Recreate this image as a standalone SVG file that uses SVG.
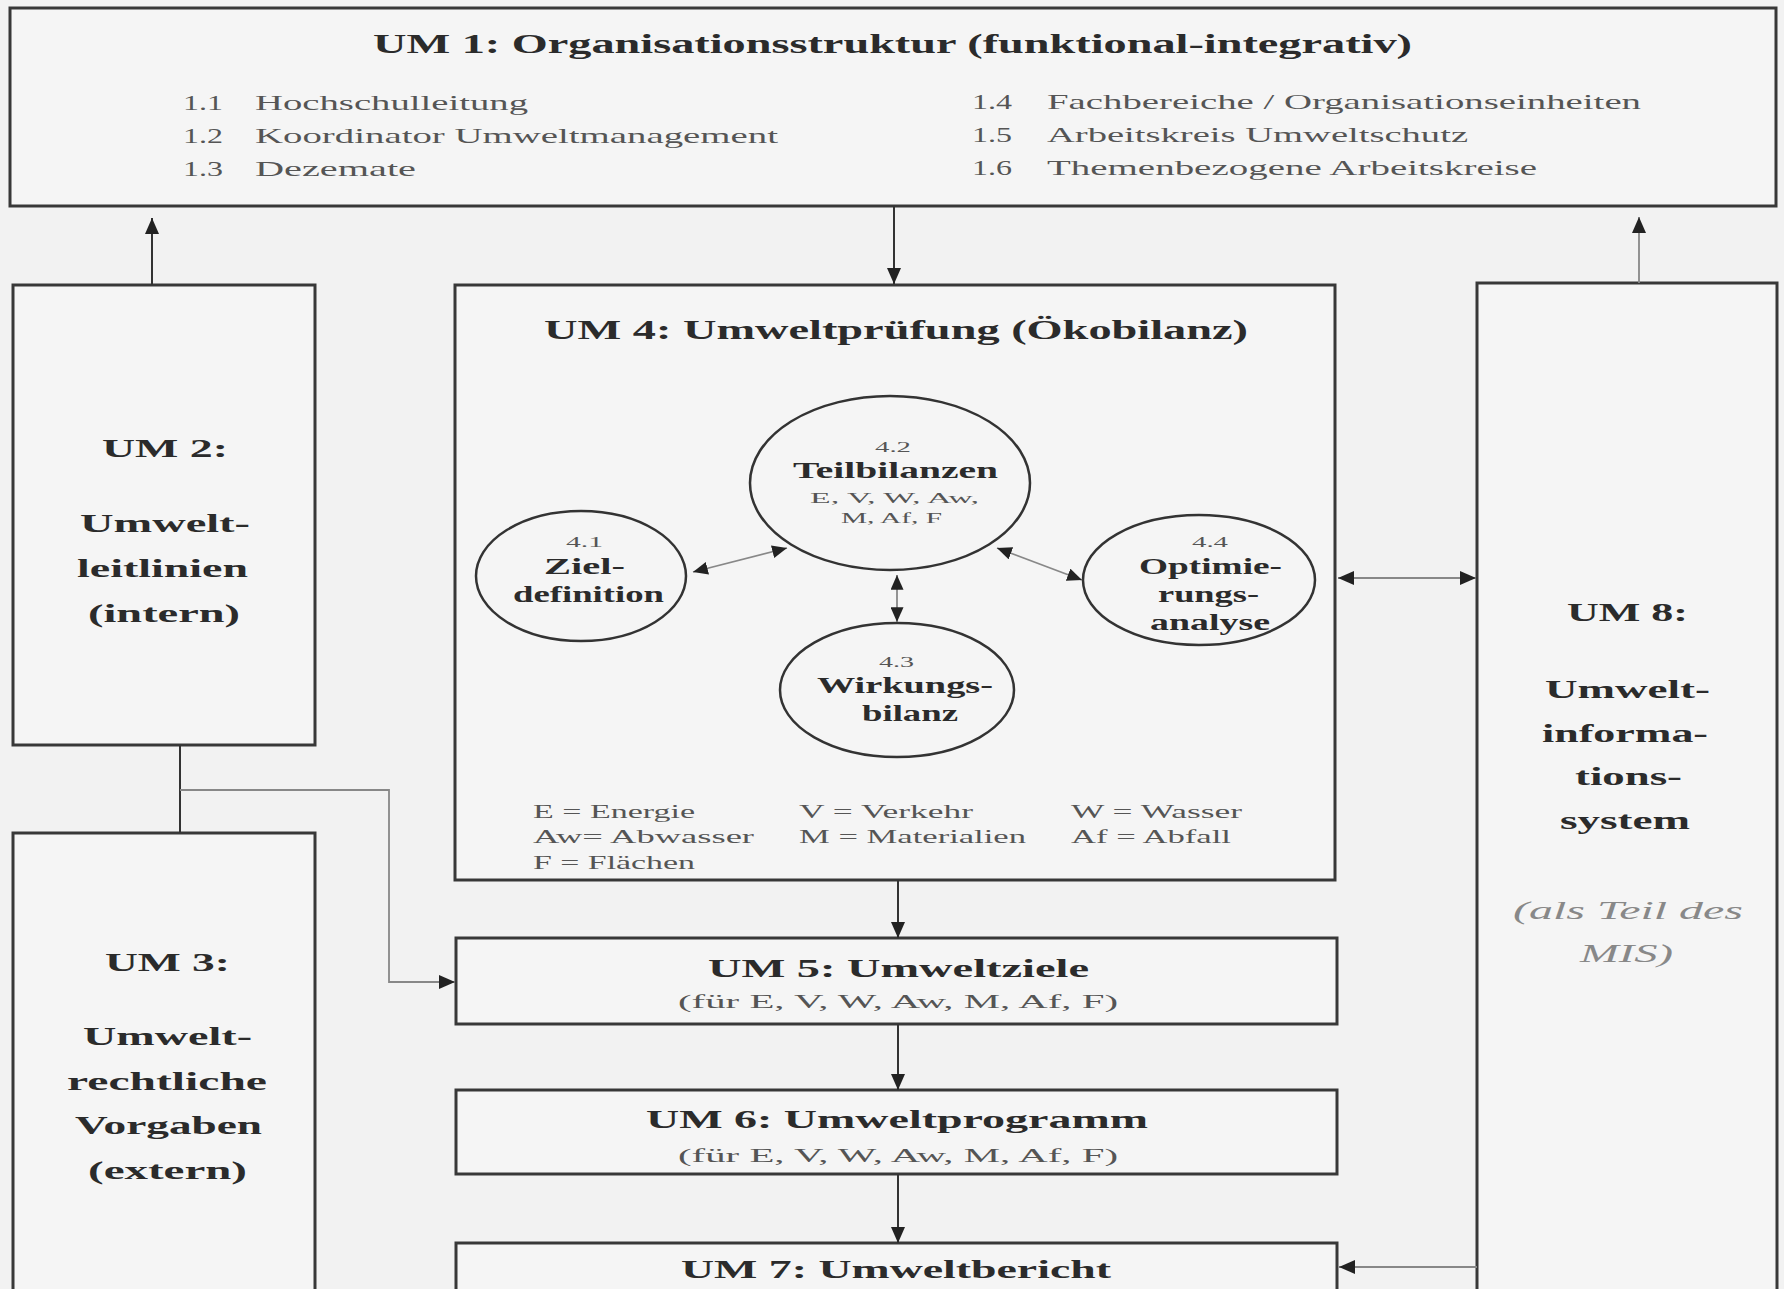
<svg xmlns="http://www.w3.org/2000/svg" width="1784" height="1289" viewBox="0 0 1784 1289">
<style>
.box{fill:#f5f5f5;stroke:#383838;stroke-width:3}
.ell{fill:#f5f5f5;stroke:#333;stroke-width:2.5}
.t{font-family:"Liberation Serif","Times New Roman",serif;fill:#2b2b2b}
.b{font-weight:bold}
.item{font-size:22px;fill:#555}
.h1{font-size:27px}
.mid{font-size:26px}
.cl{font-size:23px}
.num{font-size:15px;fill:#555}
.sm{font-size:15px;fill:#555}
.leg{font-size:19px;fill:#555}
.sub{font-size:19px;fill:#555}
.it{font-size:25px;font-style:italic;fill:#888}
.c{fill:none;stroke:#333;stroke-width:2}
.cg{fill:none;stroke:#888;stroke-width:1.8}
</style>
<defs>
<marker id="ah" viewBox="0 0 16 14" refX="16" refY="7" markerWidth="16" markerHeight="14" markerUnits="userSpaceOnUse" orient="auto-start-reverse">
<path d="M0,0 L16,7 L0,14 z" fill="#222"/>
</marker>
<marker id="ahs" viewBox="0 0 16 14" refX="16" refY="7" markerWidth="15" markerHeight="13" markerUnits="userSpaceOnUse" orient="auto-start-reverse">
<path d="M0,0 L16,7 L0,14 z" fill="#222"/>
</marker>
</defs>
<rect x="0" y="0" width="1784" height="1289" fill="#f2f2f2"/>

<g id="um1">
<rect class="box" x="10" y="8" width="1766" height="198"/>
<text class="t b h1" x="373" y="53" textLength="1039" lengthAdjust="spacingAndGlyphs">UM 1: Organisationsstruktur (funktional-integrativ)</text>
<text class="t item" x="183" y="110" textLength="40" lengthAdjust="spacingAndGlyphs">1.1</text>
<text class="t item" x="255" y="110" textLength="273" lengthAdjust="spacingAndGlyphs">Hochschulleitung</text>
<text class="t item" x="183" y="143" textLength="40" lengthAdjust="spacingAndGlyphs">1.2</text>
<text class="t item" x="255" y="143" textLength="523" lengthAdjust="spacingAndGlyphs">Koordinator Umweltmanagement</text>
<text class="t item" x="183" y="176" textLength="40" lengthAdjust="spacingAndGlyphs">1.3</text>
<text class="t item" x="255" y="176" textLength="161" lengthAdjust="spacingAndGlyphs">Dezemate</text>
<text class="t item" x="972" y="109" textLength="40" lengthAdjust="spacingAndGlyphs">1.4</text>
<text class="t item" x="1047" y="109" textLength="594" lengthAdjust="spacingAndGlyphs">Fachbereiche / Organisationseinheiten</text>
<text class="t item" x="972" y="142" textLength="40" lengthAdjust="spacingAndGlyphs">1.5</text>
<text class="t item" x="1047" y="142" textLength="421" lengthAdjust="spacingAndGlyphs">Arbeitskreis Umweltschutz</text>
<text class="t item" x="972" y="175" textLength="40" lengthAdjust="spacingAndGlyphs">1.6</text>
<text class="t item" x="1047" y="175" textLength="490" lengthAdjust="spacingAndGlyphs">Themenbezogene Arbeitskreise</text>
</g>

<g id="um2">
<rect class="box" x="13" y="285" width="302" height="460"/>
<text class="t b mid" x="102" y="457" textLength="126" lengthAdjust="spacingAndGlyphs">UM 2:</text>
<text class="t b mid" x="80" y="532" textLength="170" lengthAdjust="spacingAndGlyphs">Umwelt-</text>
<text class="t b mid" x="77" y="577" textLength="171" lengthAdjust="spacingAndGlyphs">leitlinien</text>
<text class="t b mid" x="88" y="622" textLength="152" lengthAdjust="spacingAndGlyphs">(intern)</text>
</g>

<g id="um3">
<rect class="box" x="13" y="833" width="302" height="470"/>
<text class="t b mid" x="105" y="971" textLength="125" lengthAdjust="spacingAndGlyphs">UM 3:</text>
<text class="t b mid" x="83" y="1045" textLength="169" lengthAdjust="spacingAndGlyphs">Umwelt-</text>
<text class="t b mid" x="67" y="1090" textLength="200" lengthAdjust="spacingAndGlyphs">rechtliche</text>
<text class="t b mid" x="75" y="1134" textLength="187" lengthAdjust="spacingAndGlyphs">Vorgaben</text>
<text class="t b mid" x="88" y="1179" textLength="159" lengthAdjust="spacingAndGlyphs">(extern)</text>
</g>

<g id="um4">
<rect class="box" x="455" y="285" width="880" height="595"/>
<text class="t b h1" x="544" y="339" textLength="704" lengthAdjust="spacingAndGlyphs">UM 4: Umweltprüfung (Ökobilanz)</text>
<text class="t leg" x="533" y="818" textLength="162" lengthAdjust="spacingAndGlyphs">E = Energie</text>
<text class="t leg" x="799" y="818" textLength="174" lengthAdjust="spacingAndGlyphs">V = Verkehr</text>
<text class="t leg" x="1071" y="818" textLength="171" lengthAdjust="spacingAndGlyphs">W = Wasser</text>
<text class="t leg" x="533" y="843" textLength="221" lengthAdjust="spacingAndGlyphs">Aw= Abwasser</text>
<text class="t leg" x="799" y="843" textLength="227" lengthAdjust="spacingAndGlyphs">M = Materialien</text>
<text class="t leg" x="1071" y="843" textLength="160" lengthAdjust="spacingAndGlyphs">Af = Abfall</text>
<text class="t leg" x="533" y="869" textLength="162" lengthAdjust="spacingAndGlyphs">F = Flächen</text>
</g>

<g id="n41">
<ellipse class="ell" cx="581" cy="576" rx="105" ry="65"/>
<text class="t num" x="566" y="547" textLength="37" lengthAdjust="spacingAndGlyphs">4.1</text>
<text class="t b cl" x="544" y="574" textLength="81" lengthAdjust="spacingAndGlyphs">Ziel-</text>
<text class="t b cl" x="513" y="602" textLength="151" lengthAdjust="spacingAndGlyphs">definition</text>
</g>

<g id="n42">
<ellipse class="ell" cx="890" cy="483" rx="140" ry="87"/>
<text class="t num" x="875" y="452" textLength="36" lengthAdjust="spacingAndGlyphs">4.2</text>
<text class="t b cl" x="793" y="478" textLength="205" lengthAdjust="spacingAndGlyphs">Teilbilanzen</text>
<text class="t sm" x="810" y="503" textLength="169" lengthAdjust="spacingAndGlyphs">E, V, W, Aw,</text>
<text class="t sm" x="841" y="523" textLength="101" lengthAdjust="spacingAndGlyphs">M, Af, F</text>
</g>

<g id="n43">
<ellipse class="ell" cx="897" cy="690" rx="117" ry="67"/>
<text class="t num" x="879" y="667" textLength="35" lengthAdjust="spacingAndGlyphs">4.3</text>
<text class="t b cl" x="817" y="693" textLength="176" lengthAdjust="spacingAndGlyphs">Wirkungs-</text>
<text class="t b cl" x="862" y="721" textLength="96" lengthAdjust="spacingAndGlyphs">bilanz</text>
</g>

<g id="n44">
<ellipse class="ell" cx="1199" cy="580" rx="116" ry="65"/>
<text class="t num" x="1192" y="547" textLength="36" lengthAdjust="spacingAndGlyphs">4.4</text>
<text class="t b cl" x="1139" y="574" textLength="143" lengthAdjust="spacingAndGlyphs">Optimie-</text>
<text class="t b cl" x="1158" y="602" textLength="101" lengthAdjust="spacingAndGlyphs">rungs-</text>
<text class="t b cl" x="1150" y="630" textLength="120" lengthAdjust="spacingAndGlyphs">analyse</text>
</g>

<g id="um5">
<rect class="box" x="456" y="938" width="881" height="86"/>
<text class="t b mid" x="708" y="977" textLength="381" lengthAdjust="spacingAndGlyphs">UM 5: Umweltziele</text>
<text class="t sub" x="678" y="1008" textLength="440" lengthAdjust="spacingAndGlyphs">(für E, V, W, Aw, M, Af, F)</text>
</g>

<g id="um6">
<rect class="box" x="456" y="1090" width="881" height="84"/>
<text class="t b mid" x="646" y="1128" textLength="502" lengthAdjust="spacingAndGlyphs">UM 6: Umweltprogramm</text>
<text class="t sub" x="678" y="1162" textLength="440" lengthAdjust="spacingAndGlyphs">(für E, V, W, Aw, M, Af, F)</text>
</g>

<g id="um7">
<rect class="box" x="456" y="1243" width="881" height="70"/>
<text class="t b mid" x="681" y="1278" textLength="430" lengthAdjust="spacingAndGlyphs">UM 7: Umweltbericht</text>
</g>

<g id="um8">
<rect class="box" x="1477" y="283" width="300" height="1030"/>
<text class="t b mid" x="1567" y="621" textLength="121" lengthAdjust="spacingAndGlyphs">UM 8:</text>
<text class="t b mid" x="1545" y="698" textLength="165" lengthAdjust="spacingAndGlyphs">Umwelt-</text>
<text class="t b mid" x="1542" y="742" textLength="166" lengthAdjust="spacingAndGlyphs">informa-</text>
<text class="t b mid" x="1575" y="785" textLength="107" lengthAdjust="spacingAndGlyphs">tions-</text>
<text class="t b mid" x="1560" y="829" textLength="130" lengthAdjust="spacingAndGlyphs">system</text>
<text class="t it" x="1513" y="919" textLength="230" lengthAdjust="spacingAndGlyphs">(als Teil des</text>
<text class="t it" x="1580" y="962" textLength="93" lengthAdjust="spacingAndGlyphs">MIS)</text>
</g>

<g id="connectors">
<line class="c" x1="152" y1="285" x2="152" y2="218" marker-end="url(#ah)"/>
<line class="c" x1="894" y1="206" x2="894" y2="284" marker-end="url(#ah)"/>
<line class="cg" x1="1639" y1="283" x2="1639" y2="217" marker-end="url(#ah)"/>
<line class="c" x1="180" y1="745" x2="180" y2="833"/>
<polyline class="cg" points="180,790 389,790 389,982 455,982" marker-end="url(#ah)"/>
<line class="c" x1="898" y1="880" x2="898" y2="938" marker-end="url(#ah)"/>
<line class="c" x1="898" y1="1024" x2="898" y2="1090" marker-end="url(#ah)"/>
<line class="c" x1="898" y1="1174" x2="898" y2="1243" marker-end="url(#ah)"/>
<line class="cg" x1="1338" y1="578" x2="1476" y2="578" marker-start="url(#ah)" marker-end="url(#ah)"/>
<line class="cg" x1="1477" y1="1267" x2="1339" y2="1267" marker-end="url(#ah)"/>
<line class="cg" x1="693" y1="572" x2="787" y2="548" marker-start="url(#ahs)" marker-end="url(#ahs)"/>
<line class="cg" x1="997" y1="548" x2="1082" y2="580" marker-start="url(#ahs)" marker-end="url(#ahs)"/>
<line class="cg" x1="897" y1="575" x2="897" y2="622" marker-start="url(#ahs)" marker-end="url(#ahs)"/>
</g>
</svg>
